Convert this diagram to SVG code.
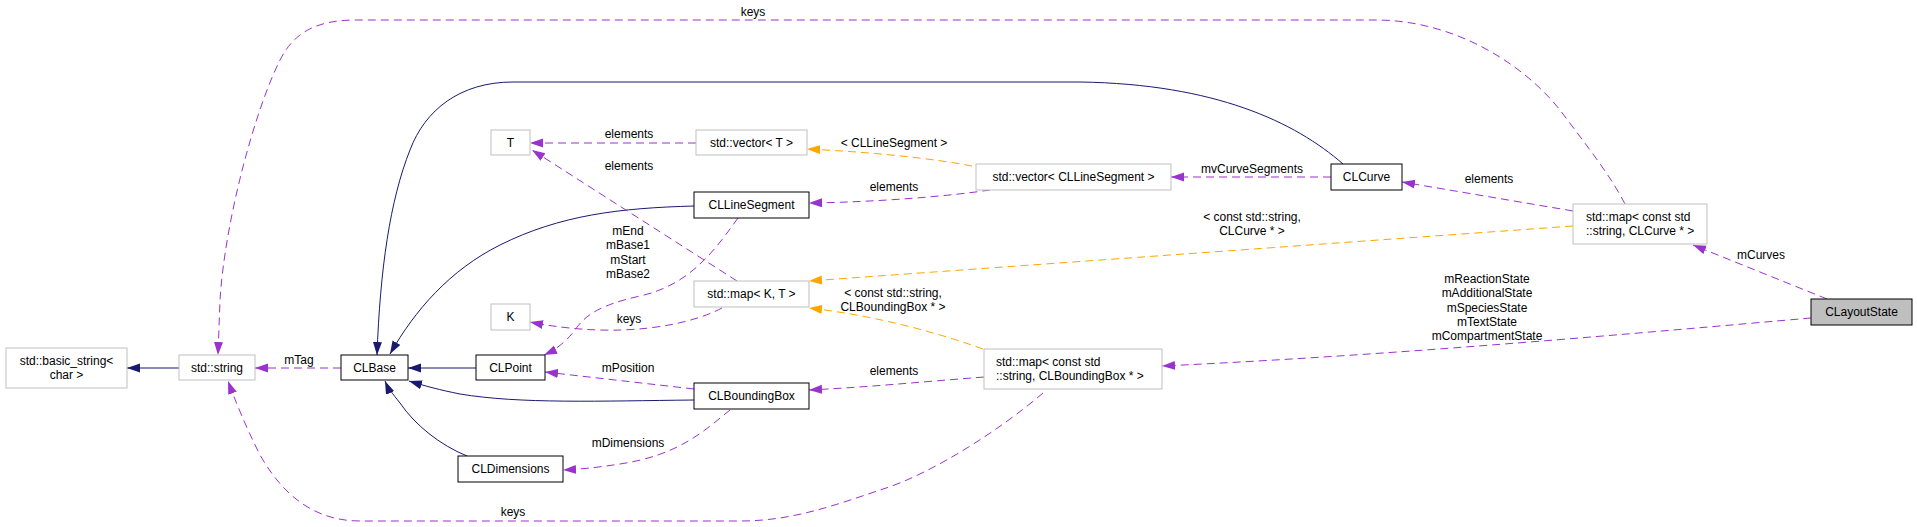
<svg xmlns="http://www.w3.org/2000/svg" width="1917" height="527" viewBox="0 0 1917 527">
<style>
text{font-family:"Liberation Sans",Arial,Helvetica,sans-serif;font-size:12px;fill:#000}
.c{text-anchor:middle}
.ext{fill:#fff;stroke:#bfbfbf;stroke-width:1}
.doc{fill:#fff;stroke:#000;stroke-width:1}
.cur{fill:#bfbfbf;stroke:#000;stroke-width:1}
.inh{fill:none;stroke:#191970;stroke-width:1;marker-end:url(#an)}
.use{fill:none;stroke:#9a32cd;stroke-width:1;stroke-dasharray:8,5;marker-end:url(#ap)}
.tpl{fill:none;stroke:#ffa500;stroke-width:1;stroke-dasharray:8,5;marker-end:url(#ao)}
</style>
<defs>
<marker id="an" markerUnits="userSpaceOnUse" markerWidth="14" markerHeight="10" refX="13" refY="4.5" orient="auto"><path d="M0,0 L13,4.5 L0,9 z" fill="#191970"/></marker>
<marker id="ap" markerUnits="userSpaceOnUse" markerWidth="14" markerHeight="10" refX="13" refY="4.5" orient="auto"><path d="M0,0 L13,4.5 L0,9 z" fill="#9a32cd"/></marker>
<marker id="ao" markerUnits="userSpaceOnUse" markerWidth="14" markerHeight="10" refX="13" refY="4.5" orient="auto"><path d="M0,0 L13,4.5 L0,9 z" fill="#ffa500"/></marker>
</defs>
<rect width="1917" height="527" fill="#fff"/>
<g id="connectors">
<path class="inh" d="M179,368 L127,368"/>
<path class="use" d="M341,368 L255,368"/>
<text class="c" x="299" y="364">mTag</text>
<path class="inh" d="M476,368 L408,368"/>
<path class="inh" d="M694,400 C600,401 520,404 460,394 C440,390 425,386 409,381"/>
<path class="inh" d="M467,456 C440,445 415,425 400,403 C392,393 388,388 385,381"/>
<path class="inh" d="M694,206 C620,208 560,215 500,245 C450,270 415,310 390,354"/>
<path class="inh" d="M1343,164 C1295,122 1215,84 1080,82 L513,82 C460,82 425,110 410,150 C390,200 380,270 377,355"/>
<path class="use" d="M1625,204 C1610,175 1590,150 1560,110 C1520,60 1450,20 1376,20 L356,20 C320,20 295,30 280,60 C255,110 225,220 220,300 L218,355"/>
<text class="c" x="753" y="16">keys</text>
<path class="use" d="M1043,393 C1000,430 930,475 880,490 C830,507 790,521 740,521 L360,521 C310,521 280,490 260,455 C245,425 235,400 228,381"/>
<text class="c" x="513" y="516">keys</text>
<path class="use" d="M696,143 L530,143"/>
<text class="c" x="629" y="138">elements</text>
<path class="use" d="M737,281 L532,150"/>
<text class="c" x="629" y="170">elements</text>
<path class="use" d="M722,308 C690,325 620,340 530,322"/>
<text class="c" x="629" y="323">keys</text>
<path class="use" d="M738,218 C715,250 690,285 640,296 C600,305 585,315 575,330 C565,343 555,350 544,355"/>
<text class="c" x="628" y="235">mEnd</text>
<text class="c" x="628" y="249">mBase1</text>
<text class="c" x="628" y="264">mStart</text>
<text class="c" x="628" y="278">mBase2</text>
<path class="use" d="M694,389 L545,372"/>
<text class="c" x="628" y="372">mPosition</text>
<path class="use" d="M730,410 C705,430 680,455 620,464 C600,467 585,469 563,470"/>
<text class="c" x="628" y="447">mDimensions</text>
<path class="use" d="M990,190 C950,196 880,202 809,203"/>
<text class="c" x="894" y="191">elements</text>
<path class="tpl" d="M972,166 C930,158 870,152 807,149"/>
<text class="c" x="894" y="147">&lt; CLLineSegment &gt;</text>
<path class="use" d="M1331,177 L1171,177"/>
<text class="c" x="1252" y="173">mvCurveSegments</text>
<path class="use" d="M1573,211 L1402,182"/>
<text class="c" x="1489" y="183">elements</text>
<path class="tpl" d="M1573,226 L809,281"/>
<text class="c" x="1252" y="221">&lt; const std::string,</text>
<text class="c" x="1252" y="235">CLCurve * &gt;</text>
<path class="tpl" d="M983,349 C930,330 870,315 809,308"/>
<text class="c" x="893" y="297">&lt; const std::string,</text>
<text class="c" x="893" y="311">CLBoundingBox * &gt;</text>
<path class="use" d="M984,377 C920,382 870,387 809,390"/>
<text class="c" x="894" y="375">elements</text>
<path class="use" d="M1827,299 L1693,245"/>
<text class="c" x="1761" y="259">mCurves</text>
<path class="use" d="M1811,318 C1650,332 1400,355 1162,366"/>
<text class="c" x="1487" y="283">mReactionState</text>
<text class="c" x="1487" y="297">mAdditionalState</text>
<text class="c" x="1487" y="312">mSpeciesState</text>
<text class="c" x="1487" y="326">mTextState</text>
<text class="c" x="1487" y="340">mCompartmentState</text>
</g>
<g id="n_basic_string"><rect class="ext" x="6" y="348" width="121" height="40"/><text class="c" x="66.5" y="365">std::basic_string&lt;</text><text class="c" x="66.5" y="379">char &gt;</text></g>
<g id="n_string"><rect class="ext" x="179" y="355" width="76" height="25"/><text class="c" x="217" y="372">std::string</text></g>
<g id="n_CLBase"><rect class="doc" x="341" y="355" width="67" height="25"/><text class="c" x="374.5" y="372">CLBase</text></g>
<g id="n_CLPoint"><rect class="doc" x="476" y="355" width="69" height="25"/><text class="c" x="510.5" y="372">CLPoint</text></g>
<g id="n_CLBoundingBox"><rect class="doc" x="694" y="383" width="115" height="26"/><text class="c" x="751.5" y="400">CLBoundingBox</text></g>
<g id="n_CLDimensions"><rect class="doc" x="458" y="456" width="105" height="26"/><text class="c" x="510.5" y="473">CLDimensions</text></g>
<g id="n_K"><rect class="ext" x="491" y="304" width="39" height="26"/><text class="c" x="510.5" y="321">K</text></g>
<g id="n_T"><rect class="ext" x="491" y="130" width="39" height="25"/><text class="c" x="510.5" y="147">T</text></g>
<g id="n_vector_T"><rect class="ext" x="696" y="130" width="111" height="25"/><text class="c" x="751.5" y="147">std::vector&lt; T &gt;</text></g>
<g id="n_CLLineSegment"><rect class="doc" x="694" y="192" width="115" height="26"/><text class="c" x="751.5" y="209">CLLineSegment</text></g>
<g id="n_map_K_T"><rect class="ext" x="694" y="281" width="115" height="26"/><text class="c" x="751.5" y="298">std::map&lt; K, T &gt;</text></g>
<g id="n_vector_CLLineSegment"><rect class="ext" x="976" y="164" width="195" height="26"/><text class="c" x="1073.5" y="181">std::vector&lt; CLLineSegment &gt;</text></g>
<g id="n_CLCurve"><rect class="doc" x="1331" y="164" width="71" height="26"/><text class="c" x="1366.5" y="181">CLCurve</text></g>
<g id="n_map_CLCurve"><rect class="ext" x="1573" y="204" width="134" height="40"/><text x="1586" y="220.5">std::map&lt; const std</text><text x="1586" y="234.5">::string, CLCurve * &gt;</text></g>
<g id="n_map_CLBoundingBox"><rect class="ext" x="984" y="349" width="178" height="40"/><text x="996" y="365.5">std::map&lt; const std</text><text x="996" y="379.5">::string, CLBoundingBox * &gt;</text></g>
<g id="n_CLayoutState"><rect class="cur" x="1811" y="299" width="101" height="26"/><text class="c" x="1861.5" y="316">CLayoutState</text></g>
</svg>
